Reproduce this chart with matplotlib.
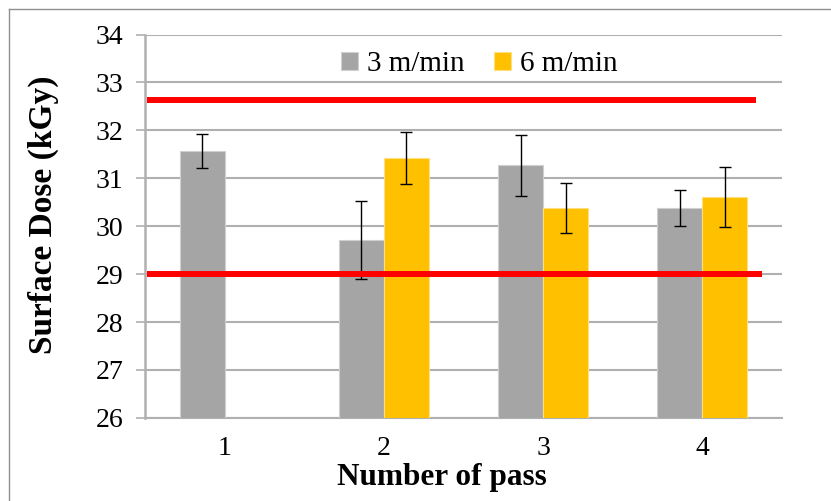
import numpy as np
import matplotlib
matplotlib.use('Agg')
import matplotlib.pyplot as plt
from matplotlib.lines import Line2D

passes = ['1', '2', '3', '4']
dose_3 = [31.57, 29.71, 31.27, 30.38]
err_3 = [0.36, 0.82, 0.64, 0.38]
dose_6 = [np.nan, 31.43, 30.38, 30.61]
err_6 = [np.nan, 0.54, 0.53, 0.63]
upper_limit = 32.64
lower_limit = 29.0

plt.rcParams['font.family'] = ['Liberation Serif', 'DejaVu Serif']

fig = plt.figure(figsize=(8.31, 5.01), dpi=100)
ax = fig.add_axes([0.1745, 0.166, 0.7665, 0.765])

x = np.arange(1, len(passes) + 1)
w = 0.283
ekw = dict(ecolor='black', elinewidth=1.0, capsize=4.5, capthick=1.0)
ax.bar(x - w / 2, dose_3, w, color='#a5a5a5', edgecolor='#d0d0d0', linewidth=0.8,
       yerr=err_3, error_kw=ekw, label='3 m/min', zorder=3)
ax.bar(x + w / 2, dose_6, w, color='#ffc000', edgecolor='#ffe080', linewidth=0.8,
       yerr=err_6, error_kw=ekw, label='6 m/min', zorder=3)

# spec limits
ax.plot([0.51, 4.34], [upper_limit, upper_limit], color='#ff0000', lw=4.3, solid_capstyle='butt', zorder=4)
ax.plot([0.51, 4.374], [lower_limit, lower_limit], color='#ff0000', lw=4.3, solid_capstyle='butt', zorder=4)

ax.set_xlim(0.5, 4.5)
ax.set_ylim(26, 34)
ax.set_yticks(range(26, 35))
ax.set_xticks(x)
ax.set_xticklabels(passes)
ax.yaxis.grid(True, color='#b0b0b0', lw=1.5, zorder=0)
ax.set_axisbelow(True)
for s in ['top', 'right']:
    ax.spines[s].set_visible(False)
ax.spines['left'].set_color('#b0b0b0')
ax.spines['left'].set_linewidth(1.8)
ax.spines['bottom'].set_color('#b0b0b0')
ax.spines['bottom'].set_linewidth(1.5)
ax.tick_params(axis='y', labelsize=20, length=6.5, width=1.2, color='#b0b0b0', pad=9)
ax.tick_params(axis='x', labelsize=20, length=0, pad=13)

ax.set_ylabel('Surface Dose (kGy)', fontsize=24, fontweight='bold')
ax.set_xlabel('Number of pass', fontsize=22.5, fontweight='bold')
ax.yaxis.set_label_coords(-0.135, 0.53)
ax.xaxis.set_label_coords(0.4655, -0.118)

ax.legend(loc='upper center', bbox_to_anchor=(0.525, 1.025), ncol=2, frameon=False, fontsize=21,
          handlelength=0.6, handleheight=0.6, handletextpad=0.3, columnspacing=1.0)

# outer frame (left and top visible)
fig.add_artist(Line2D([9 / 831, 9 / 831], [0, 1 - 9 / 501], transform=fig.transFigure, color='#909090', lw=1))
fig.add_artist(Line2D([9 / 831, 1], [1 - 9 / 501, 1 - 9 / 501], transform=fig.transFigure, color='#909090', lw=1))

fig.savefig('out.png', dpi=100)
